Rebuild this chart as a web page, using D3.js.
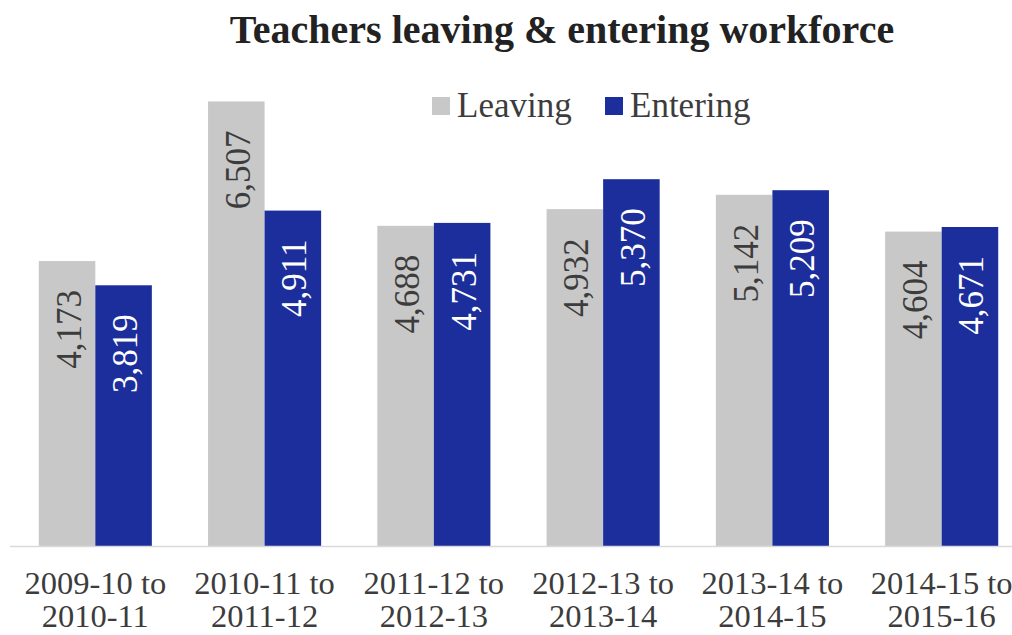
<!DOCTYPE html>
<html>
<head>
<meta charset="utf-8">
<script src="https://cdn.jsdelivr.net/npm/d3@7"></script>
<style>
  html, body { margin: 0; padding: 0; background: #fff; }
  svg { display: block; }
</style>
</head>
<body>
<svg id="chart" width="1012" height="635"></svg>
<script>
// Teacher workforce flows by school-year period
const periods = [
  ["2009-10 to", "2010-11"],
  ["2010-11 to", "2011-12"],
  ["2011-12 to", "2012-13"],
  ["2012-13 to", "2013-14"],
  ["2013-14 to", "2014-15"],
  ["2014-15 to", "2015-16"]
];
const leaving  = [4173, 6507, 4688, 4932, 5142, 4604];
const entering = [3819, 4911, 4731, 5370, 5209, 4671];
const seriesNames = ["Leaving", "Entering"];
const seriesColors = ["#c8c8c8", "#1c2e9c"];
const labelColors = ["#3c3c3c", "#ffffff"];

const FONT = "'Liberation Serif', 'Times New Roman', Times, serif";
const W = 1012, H = 635;
const baseY = 546.5;
const svg = d3.select("#chart").style("font-family", FONT);

const keys = periods.map(p => p.join(" "));
const x = d3.scaleBand()
  .domain(keys)
  .range([10, 1027])
  .paddingInner(0.332)
  .paddingOuter(0.17);

const x1 = d3.scaleBand()
  .domain(seriesNames)
  .range([0, x.bandwidth()])
  .padding(0);

const y = d3.scaleLinear()
  .domain([0, 7000])
  .range([baseY, baseY - 7000 * 0.0684]);

const fmt = d3.format(",");

const rows = keys.map((k, i) => ({ key: k, values: [leaving[i], entering[i]] }));

// Bars
const groups = svg.append("g")
  .selectAll("g")
  .data(rows)
  .join("g")
  .attr("transform", d => `translate(${x(d.key)},0)`);

groups.selectAll("rect")
  .data(d => d.values.map((v, j) => ({ name: seriesNames[j], v, j })))
  .join("rect")
  .attr("x", d => x1(d.name))
  .attr("y", d => y(d.v))
  .attr("width", x1.bandwidth())
  .attr("height", d => y(0) - y(d.v))
  .attr("fill", d => seriesColors[d.j]);

// Value labels, rotated, near the top of each bar
groups.selectAll("text.val")
  .data(d => d.values.map((v, j) => ({ name: seriesNames[j], v, j })))
  .join("text")
  .attr("class", "val")
  .attr("transform", d => `translate(${x1(d.name) + x1.bandwidth() / 2 + 2},${y(d.v) + 29}) rotate(-90)`)
  .attr("text-anchor", "end")
  .attr("dominant-baseline", "central")
  .style("font-family", FONT)
  .attr("font-size", 35)
  .attr("fill", d => labelColors[d.j])
  .text(d => fmt(d.v));

// Baseline axis
svg.append("line")
  .attr("x1", 10).attr("x2", W)
  .attr("y1", baseY).attr("y2", baseY)
  .attr("stroke", "#d9d9d9")
  .attr("stroke-width", 1.5);

// Category labels (two lines each)
const cat = svg.append("g")
  .selectAll("text")
  .data(periods.map((p, i) => ({ key: keys[i], lines: p })))
  .join("text")
  .attr("x", d => x(d.key) + x.bandwidth() / 2)
  .attr("y", 594)
  .attr("text-anchor", "middle")
  .style("font-family", FONT)
  .attr("font-size", 32.5)
  .attr("fill", "#3c3c3c");
cat.selectAll("tspan")
  .data(d => d.lines.map(l => ({ l, cx: x(d.key) + x.bandwidth() / 2 })))
  .join("tspan")
  .attr("x", d => d.cx)
  .attr("dy", (d, i) => i === 0 ? 0 : 33)
  .text(d => d.l);

// Title
svg.append("text")
  .attr("x", 562)
  .attr("y", 43)
  .attr("text-anchor", "middle")
  .style("font-family", FONT)
  .attr("font-size", 40)
  .attr("font-weight", "bold")
  .attr("fill", "#222")
  .text("Teachers leaving & entering workforce");

// Legend
const legend = svg.append("g").attr("transform", "translate(432,97)");
const legX = [0, 173];
seriesNames.forEach((name, j) => {
  const g = legend.append("g").attr("transform", `translate(${legX[j]},0)`);
  g.append("rect")
    .attr("width", 18).attr("height", 18)
    .attr("fill", seriesColors[j]);
  g.append("text")
    .attr("x", 25)
    .attr("y", 20)
    .style("font-family", FONT)
    .attr("font-size", 35)
    .attr("fill", "#3c3c3c")
    .text(name);
});
</script>
</body>
</html>
